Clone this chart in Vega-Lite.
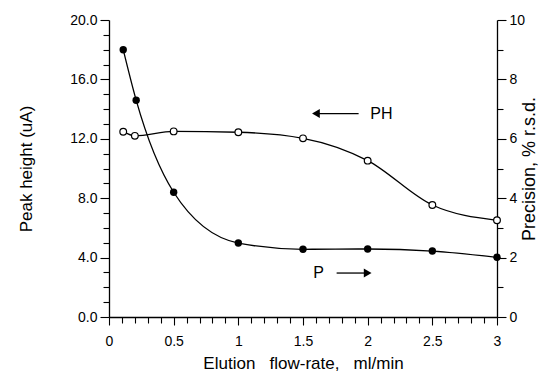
{
  "$schema": "https://vega.github.io/schema/vega-lite/v6.json",
  "width": 388,
  "height": 297,
  "autosize": {"type": "none"},
  "padding": {"left": 109, "top": 20, "right": 62, "bottom": 56},
  "background": "white",
  "config": {
    "view": {"stroke": null},
    "font": "Liberation Sans",
    "axis": {
      "grid": false,
      "domainColor": "black",
      "domainWidth": 1.3,
      "tickColor": "black",
      "tickWidth": 1.1,
      "labelColor": "black",
      "titleColor": "black",
      "labelFontSize": 14,
      "titleFontSize": 17,
      "titleFontWeight": "normal",
      "labelOverlap": false,
      "labelBound": false,
      "labelFlush": false
    }
  },
  "datasets": {
    "ph": [
      {"flow": 0.11, "h": 12.48},
      {"flow": 0.2, "h": 12.2},
      {"flow": 0.5, "h": 12.5},
      {"flow": 1.0, "h": 12.44},
      {"flow": 1.5, "h": 12.03},
      {"flow": 2.0, "h": 10.53},
      {"flow": 2.5, "h": 7.54},
      {"flow": 3.0, "h": 6.51}
    ],
    "p": [
      {"flow": 0.11, "p": 9.0},
      {"flow": 0.21, "p": 7.3},
      {"flow": 0.5, "p": 4.2},
      {"flow": 1.0, "p": 2.49},
      {"flow": 1.5, "p": 2.28},
      {"flow": 2.0, "p": 2.29},
      {"flow": 2.5, "p": 2.22},
      {"flow": 3.0, "p": 2.01}
    ],
    "labels": [
      {"flow": 2.02, "h": 13.7, "label": "PH"},
      {"flow": 1.58, "h": 2.96, "label": "P"}
    ],
    "arrows": [
      {"flow": 1.6, "flow2": 1.93, "h": 13.7, "head": 1.6, "dir": "left"},
      {"flow": 1.76, "flow2": 2.0, "h": 2.96, "head": 2.0, "dir": "right"}
    ]
  },
  "encoding": {
    "x": {
      "field": "flow",
      "type": "quantitative",
      "scale": {"domain": [0, 3], "nice": false, "zero": false},
      "axis": {
        "title": "Elution\u00a0\u00a0 flow-rate,\u00a0\u00a0 ml/min",
        "values": [0,0.1,0.2,0.3,0.4,0.5,0.6,0.7,0.8,0.9,1,1.1,1.2,1.3,1.4,1.5,1.6,1.7,1.8,1.9,2,2.1,2.2,2.3,2.4,2.5,2.6,2.7,2.8,2.9,3],
        "labelExpr": "abs(datum.value*2-round(datum.value*2))<0.001 ? format(datum.value,'~g') : ''",
        "tickSize": {"condition": {"test": "abs(datum.value*2-round(datum.value*2))<0.001", "value": 8}, "value": 6},
        "labelPadding": 9,
        "titlePadding": 7
      }
    }
  },
  "layer": [
    {
      "encoding": {
        "y": {
          "field": "h",
          "type": "quantitative",
          "scale": {"domain": [0, 20], "nice": false},
          "axis": {
            "orient": "left",
            "title": "Peak height (uA)",
            "values": [0,1,2,3,4,5,6,7,8,9,10,11,12,13,14,15,16,17,18,19,20],
            "labelExpr": "datum.value % 4 == 0 ? format(datum.value,'.1f') : ''",
            "tickSize": {"condition": {"test": "datum.value % 4 == 0", "value": 9}, "value": 6},
            "labelPadding": 3,
            "titlePadding": 34
          }
        }
      },
      "layer": [
        {
          "data": {"name": "ph"},
          "mark": {"type": "line", "interpolate": "monotone", "color": "black", "strokeWidth": 1.3}
        },
        {
          "data": {"name": "ph"},
          "mark": {"type": "point", "shape": "circle", "filled": true, "fill": "white", "stroke": "black", "strokeWidth": 1.2, "size": 45, "opacity": 1}
        },
        {
          "data": {"name": "labels"},
          "mark": {"type": "text", "color": "black", "fontSize": 16, "align": "left", "baseline": "middle", "font": "Liberation Sans"},
          "encoding": {"text": {"field": "label"}}
        },
        {
          "data": {"name": "arrows"},
          "mark": {"type": "rule", "color": "black", "strokeWidth": 1.3},
          "encoding": {"x2": {"field": "flow2"}}
        },
        {
          "data": {"name": "arrows"},
          "mark": {"type": "point", "filled": true, "color": "black", "size": 80, "opacity": 1},
          "encoding": {
            "x": {"field": "head", "type": "quantitative"},
            "shape": {
              "field": "dir",
              "type": "nominal",
              "scale": {"domain": ["left", "right"], "range": ["triangle-left", "triangle-right"]},
              "legend": null
            }
          }
        }
      ]
    },
    {
      "data": {"name": "p"},
      "encoding": {
        "y": {
          "field": "p",
          "type": "quantitative",
          "scale": {"domain": [0, 10], "nice": false},
          "axis": {
            "orient": "right",
            "title": "Precision, % r.s.d.",
            "titleAngle": -90,
            "titleFontSize": 18,
            "values": [0,1,2,3,4,5,6,7,8,9,10],
            "labelExpr": "datum.value % 2 == 0 ? format(datum.value,'d') : ''",
            "tickSize": {"condition": {"test": "datum.value % 2 == 0", "value": 9}, "value": 6},
            "labelPadding": 3,
            "titlePadding": 14
          }
        }
      },
      "layer": [
        {
          "mark": {"type": "line", "interpolate": "monotone", "color": "black", "strokeWidth": 1.3}
        },
        {
          "mark": {"type": "point", "shape": "circle", "filled": true, "color": "black", "size": 55, "opacity": 1}
        }
      ]
    }
  ],
  "resolve": {"scale": {"y": "independent"}}
}
